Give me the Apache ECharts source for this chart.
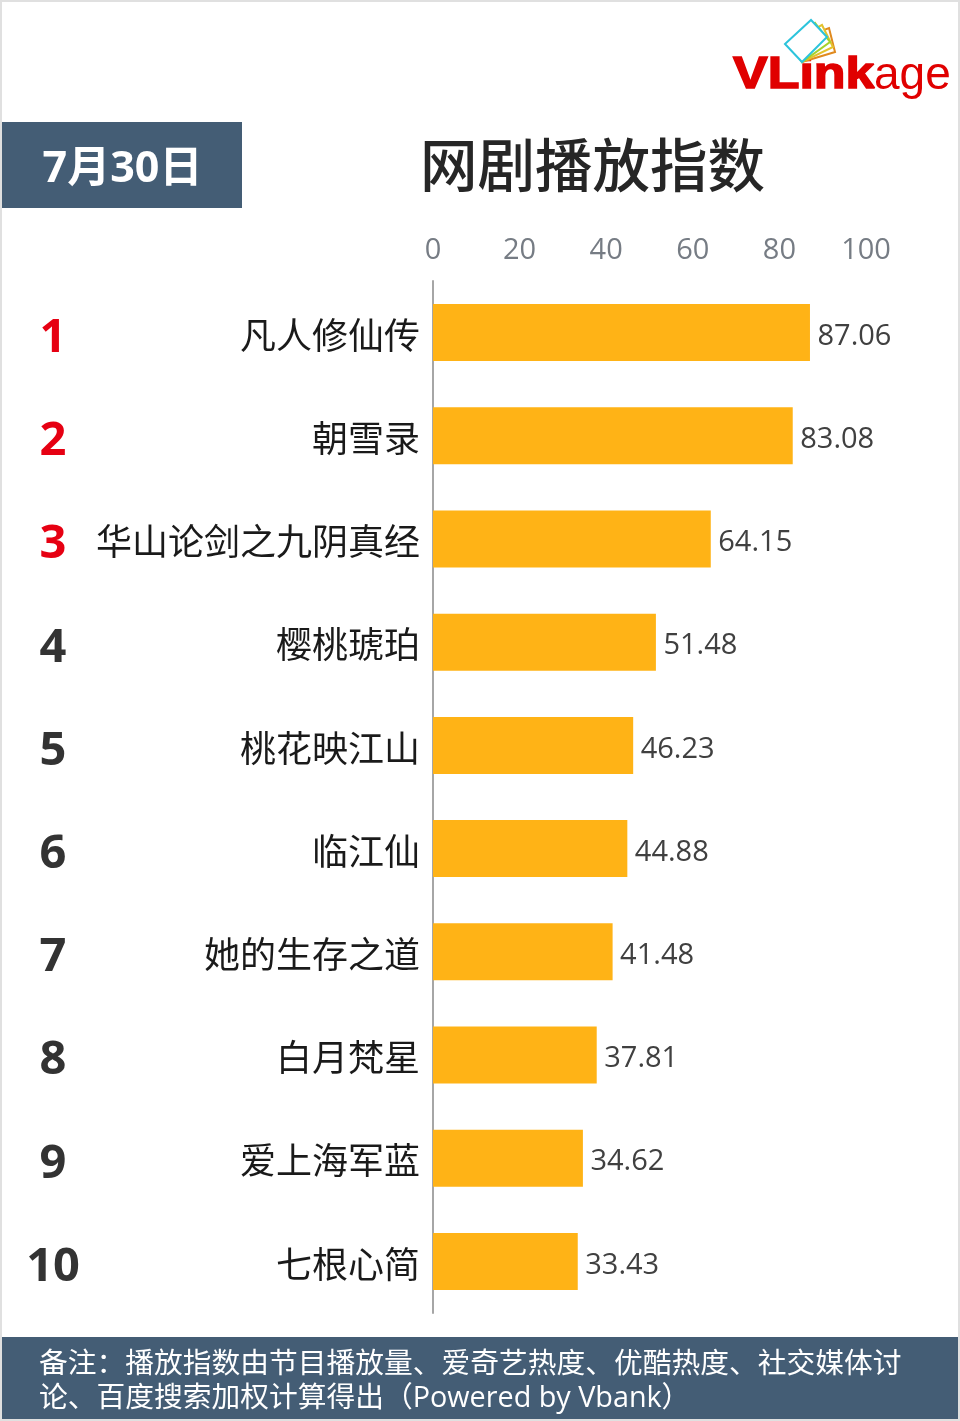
<!DOCTYPE html>
<html><head><meta charset="utf-8">
<style>html,body{margin:0;padding:0;background:#fff}#c{width:960px;height:1421px}</style>
<script src="https://cdn.jsdelivr.net/npm/echarts@6/dist/echarts.min.js"></script>
</head><body><div id="c"></div>
<script>
const categories = ['凡人修仙传','朝雪录','华山论剑之九阴真经','樱桃琥珀','桃花映江山','临江仙','她的生存之道','白月梵星','爱上海军蓝','七根心简'];
const ranks = ['1','2','3','4','5','6','7','8','9','10'];
const values = [87.06,83.08,64.15,51.48,46.23,44.88,41.48,37.81,34.62,33.43];
const titleText = '网剧播放指数';
const dateText = '7月30日';
const noteLines = ['备注：播放指数由节目播放量、爱奇艺热度、优酷热度、社交媒体讨','论、百度搜索加权计算得出（Powered by Vbank）'];
const F = '"Open Sans","Noto Sans CJK SC",sans-serif';
const CJK = '"Noto Sans CJK SC",sans-serif';
const LOGO = '"Liberation Sans",Arial,sans-serif';
const chart = echarts.init(document.getElementById('c'), null, {renderer:'canvas'});
function quad(pts,color){return {type:'polygon',shape:{points:pts},style:{fill:'#fff',stroke:color,lineWidth:2},z:7};}
chart.setOption({
  backgroundColor:'#fff',
  animation:false,
  grid:{left:433,top:281,width:433,height:1032,containLabel:false},
  xAxis:{type:'value',position:'top',min:0,max:100,interval:20,
    axisLine:{show:false},axisTick:{show:false},splitLine:{show:false},
    axisLabel:{fontFamily:F,fontSize:29,color:'#767c84',margin:16}},
  yAxis:[
    {type:'category',inverse:true,data:categories,
      axisLine:{show:true,lineStyle:{color:'#a6a6a6',width:2}},axisTick:{show:false},
      axisLabel:{interval:0,fontFamily:CJK,fontSize:36,color:'#1a1a1a',margin:13,verticalAlign:'top',lineHeight:5}},
    {type:'category',inverse:true,position:'left',offset:380,data:ranks,
      axisLine:{show:false},axisTick:{show:false},
      axisLabel:{interval:0,fontFamily:F,fontWeight:'bold',fontSize:47,align:'center',margin:0,verticalAlign:'top',lineHeight:12,
        color:function(v,i){return i<3?'#e60012':'#333333';}}}
  ],
  series:[{type:'bar',data:values,barWidth:57,yAxisIndex:0,
    itemStyle:{color:'#ffb316'},
    label:{show:true,position:'right',distance:7.5,offset:[0,4],fontFamily:F,fontSize:29,color:'#404040',
      formatter:function(p){return p.value.toFixed(2);}}}],
  graphic:[
    {type:'rect',silent:true,z:-1,shape:{x:1,y:1,width:958,height:1419},style:{fill:'none',stroke:'#e0e0e0',lineWidth:2}},
    {type:'rect',z:3,shape:{x:2,y:122,width:240,height:86},style:{fill:'#445d75'}},
    {type:'text',z:4,x:122.5,y:170,style:{text:dateText,fontFamily:F,fontWeight:'bold',fontSize:43,fill:'#fff',align:'center',verticalAlign:'middle'}},
    {type:'text',z:4,x:592.5,y:165,style:{text:titleText,fontFamily:CJK,fontWeight:500,fontSize:57.5,fill:'#262626',align:'center',verticalAlign:'middle'}},
    {type:'rect',z:3,shape:{x:2,y:1337,width:956,height:82},style:{fill:'#445d75'}},
    {type:'text',z:4,x:39,y:1365,style:{text:noteLines[0],fontFamily:F,fontSize:28.75,fill:'#fff',align:'left',verticalAlign:'middle'}},
    {type:'text',z:4,x:39,y:1399,style:{text:noteLines[1],fontFamily:F,fontSize:28.75,fill:'#fff',align:'left',verticalAlign:'middle'}},
    quad([[795,41],[829,28],[835,52],[802,62]],'#e08a1e'),
    quad([[792,42],[822,25],[833,47],[802,62]],'#e3c22c'),
    quad([[789,43],[815,23],[830,42],[802,62]],'#a6d22a'),
    quad([[785,44],[811,20],[827,37],[802,62]],'#2cc4dc'),
    {type:'text',z:6,x:733,y:76,scaleX:1.155,style:{text:'VLink',fontFamily:LOGO,fontWeight:'bold',fontSize:45,fill:'#e00000',stroke:'#e00000',lineWidth:1.5,align:'left',verticalAlign:'middle'}},
    {type:'text',z:6,x:874,y:76,style:{text:'age',fontFamily:LOGO,fontSize:46,fill:'#e00000',align:'left',verticalAlign:'middle'}}
  ]
});
</script></body></html>
